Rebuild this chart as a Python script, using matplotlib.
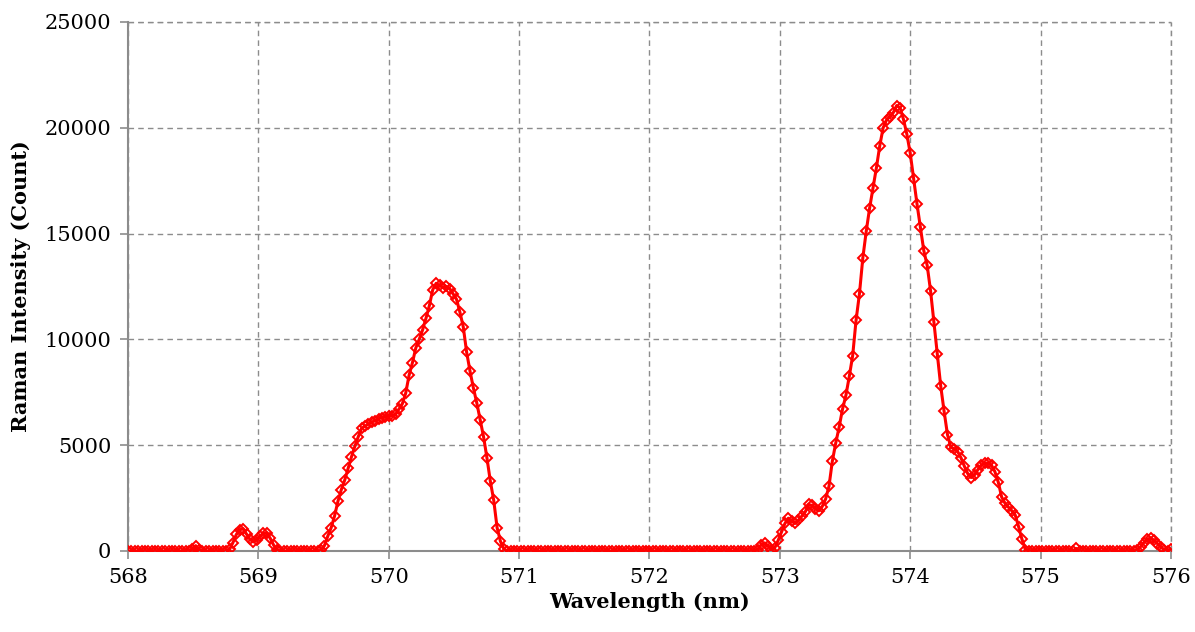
import numpy as np
import matplotlib
matplotlib.use("Agg")
import matplotlib.pyplot as plt

# =========================
# DATA
# =========================
WL_MIN = 568.0
WL_MAX = 576.0
N_POINTS = 309

# Raman counts, one value per CCD pixel (zero runs written compactly)
intensity = (
    [0] * 19
    + [100, 250, 60]
    + [0] * 8
    + [80, 400, 780, 1000, 1050, 800, 550, 430, 520, 700, 830, 850, 600, 280, 40]
    + [0] * 12
    + [30, 250, 700, 1100, 1650, 2350, 2900, 3350, 3900, 4450,
       4950, 5400, 5800, 5900, 6000, 6100, 6150, 6250, 6300, 6350,
       6400, 6400, 6450, 6700, 6950, 7450, 8300, 8900, 9600, 10000,
       10450, 11000, 11600, 12350, 12650, 12550, 12450, 12500, 12400, 12150,
       11900, 11300, 10600, 9400, 8500, 7700, 7000, 6200, 5400, 4400,
       3300, 2400, 1100, 450, 100]
    + [0] * 74
    + [60, 300, 380, 250, 40, 150, 500, 900, 1300, 1550,
       1400, 1300, 1450, 1650, 1850, 2200, 2150, 2000, 1900, 2100,
       2450, 3050, 4250, 5100, 5850, 6700, 7350, 8250, 9230, 10900,
       12150, 13850, 15100, 16200, 17150, 18100, 19150, 20000, 20370, 20530,
       20720, 21050, 20950, 20400, 19700, 18800, 17600, 16400, 15300, 14200,
       13500, 12300, 10800, 9300, 7800, 6600, 5500, 4900, 4830, 4700,
       4400, 4000, 3650, 3470, 3600, 3850, 4060, 4150, 4160, 4050,
       3750, 3250, 2550, 2250, 2070, 1900, 1700, 1150, 550, 60]
    + [0] * 14
    + [120]
    + [0] * 17
    + [50, 200, 400, 550, 620, 500, 350, 200, 50, 0, 100]
)

wavelength = np.linspace(WL_MIN, WL_MAX, N_POINTS)
assert len(intensity) == len(wavelength)

x_ticks = [568, 569, 570, 571, 572, 573, 574, 575, 576]
y_ticks = [0, 5000, 10000, 15000, 20000, 25000]

# =========================
# PLOT
# =========================
plt.rcParams["font.family"] = ["DejaVu Serif"]

fig = plt.figure(figsize=(11.95, 6.32), dpi=100)
ax = fig.add_axes([0.1071, 0.1282, 0.8728, 0.837])

ax.plot(wavelength, intensity, color="#ff0000", linewidth=2.2,
        marker="D", markersize=5.5, markerfacecolor="none",
        markeredgecolor="#ff0000", markeredgewidth=1.4, zorder=3)

ax.set_xlim(WL_MIN, WL_MAX)
ax.set_ylim(0, 25000)
ax.set_xticks(x_ticks)
ax.set_yticks(y_ticks)
ax.set_xticklabels([str(t) for t in x_ticks])
ax.set_yticklabels([str(t) for t in y_ticks])

grid_style = dict(color="#8c8c8c", linestyle=(0, (4, 3)), linewidth=1.0)
ax.grid(True, zorder=0, **grid_style)
ax.set_axisbelow(True)
# right-most gridline sits on the axes edge, keep it whole
ax.axvline(WL_MAX, clip_on=False, zorder=1, **grid_style)
ax.axhline(25000, clip_on=False, zorder=1, **grid_style)

for side in ["top", "right"]:
    ax.spines[side].set_visible(False)
for side in ["left", "bottom"]:
    ax.spines[side].set_color("#8c8c8c")
    ax.spines[side].set_linewidth(1.5)

ax.tick_params(axis="both", direction="out", length=6, width=1.2,
               color="#8c8c8c", labelsize=15, pad=6)

ax.set_xlabel("Wavelength (nm)", fontsize=15, fontweight="bold", labelpad=4)
ax.set_ylabel("Raman Intensity (Count)", fontsize=15, fontweight="bold", labelpad=10)

fig.savefig("out.png", dpi=100)
